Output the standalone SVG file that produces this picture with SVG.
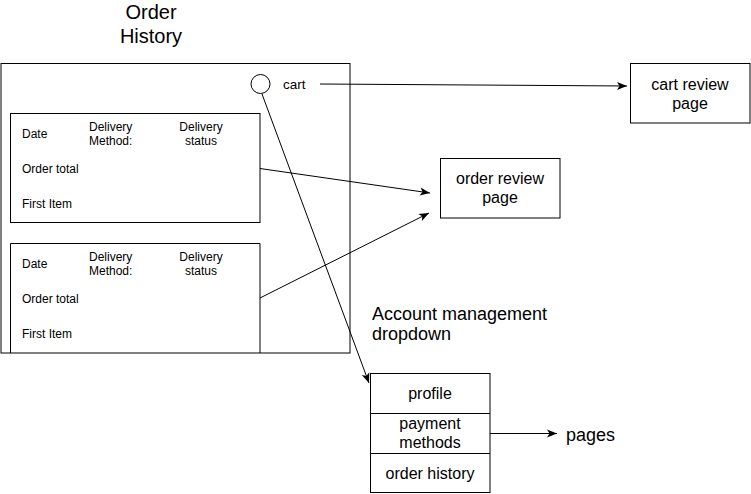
<svg xmlns="http://www.w3.org/2000/svg" width="751" height="494" viewBox="0 0 751 494">
<defs>
<style>
.box{fill:#fff;stroke:#000;stroke-width:1}
.ln{fill:none;stroke:#000;stroke-width:1}
text{font-family:"Liberation Sans",Arial,sans-serif;fill:#000}
.s{font-size:12px}
.m{font-size:16px}
.l{font-size:18px}
.c{text-anchor:middle}
</style>
<marker id="ah" markerUnits="userSpaceOnUse" markerWidth="12" markerHeight="10" viewBox="0 0 12 10" refX="11" refY="5" orient="auto">
<path d="M1,1 L11,5 L1,9 L3.5,5 Z" fill="#000"/>
</marker>
</defs>
<rect width="751" height="494" fill="#fff"/>
<g id="title"><text class="c" x="151" y="19" style="font-size:20px">Order</text><text class="c" x="151" y="43" style="font-size:20px">History</text></g>
<g id="page-frame">
<rect class="box" x="1" y="63.5" width="349" height="289.5"/>
<circle class="box" cx="260.5" cy="84" r="9.5"/>
<text x="283" y="89" style="font-size:13.5px">cart</text>
</g>
<g id="order-card-1">
<rect class="box" x="10.5" y="113.5" width="249.5" height="109"/>
<text class="s" x="22" y="138">Date</text>
<text class="s" x="89" y="131">Delivery</text><text class="s" x="89" y="145">Method:</text>
<text class="s c" x="201" y="131">Delivery</text><text class="s c" x="201" y="145">status</text>
<text class="s" x="22" y="173">Order total</text>
<text class="s" x="22" y="208">First Item</text>
</g>
<g id="order-card-2">
<path class="ln" d="M10.5,353 V243.5 H260 V353"/>
<text class="s" x="22" y="268">Date</text>
<text class="s" x="89" y="261">Delivery</text><text class="s" x="89" y="275">Method:</text>
<text class="s c" x="201" y="261">Delivery</text><text class="s c" x="201" y="275">status</text>
<text class="s" x="22" y="303">Order total</text>
<text class="s" x="22" y="338">First Item</text>
</g>
<g id="cart-review-page">
<rect class="box" x="630.5" y="63.5" width="119.5" height="59.5"/>
<text class="m c" x="690" y="90">cart review</text><text class="m c" x="690" y="109">page</text>
</g>
<g id="order-review-page">
<rect class="box" x="440.5" y="158.5" width="119.5" height="59.5"/>
<text class="m c" x="500" y="184">order review</text><text class="m c" x="500" y="203">page</text>
</g>
<g id="account-dropdown-label">
<text class="l" x="372" y="320">Account management</text><text class="l" x="372" y="340">dropdown</text>
</g>
<g id="account-dropdown">
<rect class="box" x="370.5" y="373.5" width="119.5" height="119"/>
<line class="ln" x1="370.5" y1="413.5" x2="490" y2="413.5"/>
<line class="ln" x1="370.5" y1="453.5" x2="490" y2="453.5"/>
<text class="m c" x="430" y="399">profile</text>
<text class="m c" x="430" y="429">payment</text><text class="m c" x="430" y="448">methods</text>
<text class="m c" x="430" y="479">order history</text>
</g>
<g id="pages-label"><text x="566" y="441" style="font-size:18px">pages</text></g>
<g id="connectors">
<line class="ln" x1="320" y1="84" x2="627" y2="86" marker-end="url(#ah)"/>
<line class="ln" x1="260" y1="168.5" x2="430" y2="193" marker-end="url(#ah)"/>
<line class="ln" x1="260" y1="298" x2="429" y2="213" marker-end="url(#ah)"/>
<line class="ln" x1="262" y1="94" x2="369" y2="383" marker-end="url(#ah)"/>
<line class="ln" x1="490" y1="433.5" x2="557" y2="433.5" marker-end="url(#ah)"/>
</g>
</svg>
